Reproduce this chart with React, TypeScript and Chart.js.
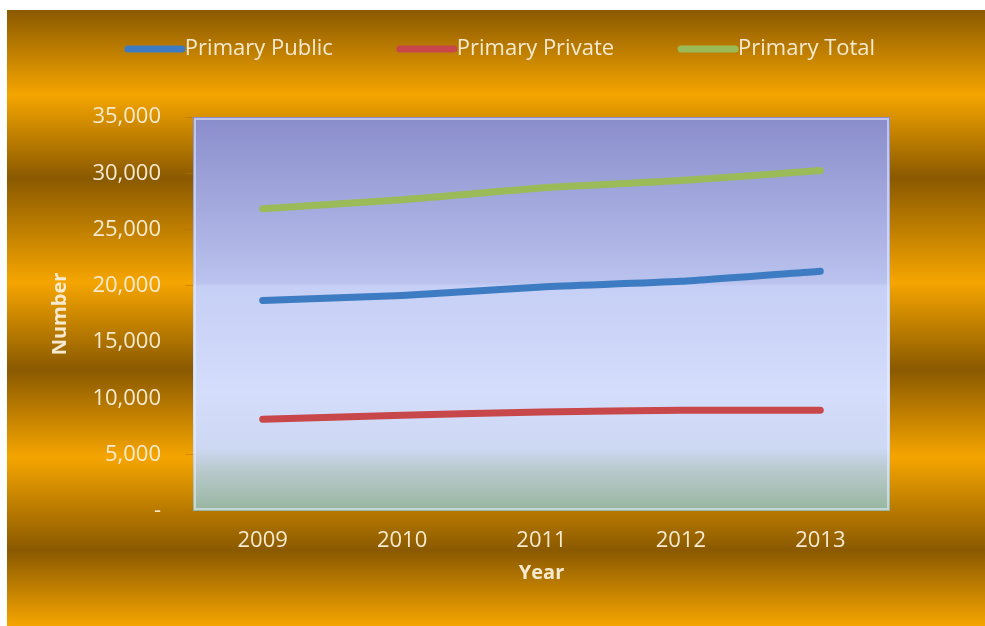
import React, { useEffect, useRef } from 'react';
import { Chart, registerables } from 'chart.js';

Chart.register(...registerables);

const years = ['2009', '2010', '2011', '2012', '2013'];
const primaryPublic = [18700, 19150, 19900, 20400, 21300];
const primaryPrivate = [8150, 8500, 8800, 8950, 8950];
const primaryTotal = [26850, 27650, 28700, 29350, 30250];
const seriesNames = ['Primary Public', 'Primary Private', 'Primary Total'];
const seriesColors = ['#3D7CC2', '#C8474A', '#9BBB59'];
const yMin = 0;
const yMax = 35000;
const yStep = 5000;

const W = 978;
const H = 616;
const TEXT = '#F7EAD0';
const FONT = '"Open Sans", "Liberation Sans", sans-serif';

const backgroundPlugin = {
  id: 'bgPlugin',
  beforeDraw(chart: any) {
    const { ctx, width, height, chartArea } = chart;
    ctx.save();
    const dark = '#8A5900';
    const orange = '#F5A500';
    const g = ctx.createLinearGradient(0, 0, 0, height);
    g.addColorStop(0, dark);
    g.addColorStop(0.138, orange);
    g.addColorStop(0.273, dark);
    g.addColorStop(0.442, orange);
    g.addColorStop(0.584, dark);
    g.addColorStop(0.726, orange);
    g.addColorStop(0.877, dark);
    g.addColorStop(1, orange);
    ctx.fillStyle = g;
    ctx.fillRect(0, 0, width, height);

    const { left, top, right, bottom } = chartArea;
    const pg = ctx.createLinearGradient(0, top, 0, bottom);
    pg.addColorStop(0, '#8A8DCB');
    pg.addColorStop(0.42, '#BAC2EE');
    pg.addColorStop(0.43, '#C6CFF5');
    pg.addColorStop(0.7, '#D4DDFB');
    pg.addColorStop(0.84, '#CDD8F3');
    pg.addColorStop(0.9, '#B8C9CB');
    pg.addColorStop(1, '#97B59F');
    ctx.fillStyle = pg;
    ctx.fillRect(left, top, right - left, bottom - top);
    ctx.strokeStyle = 'rgba(235,240,255,0.55)';
    ctx.lineWidth = 2;
    ctx.strokeRect(left + 2, top + 2, right - left - 4, bottom - top - 4);
    ctx.restore();
  },
};

const legendPlugin = {
  id: 'customLegend',
  afterDraw(chart: any) {
    const { ctx } = chart;
    ctx.save();
    ctx.font = `22px ${FONT}`;
    ctx.textBaseline = 'middle';
    ctx.textAlign = 'left';
    const lineW = 60;
    const gap = 64;
    const items = chart.data.datasets.map((d: any) => ({
      label: d.label,
      color: d.borderColor,
      w: ctx.measureText(d.label).width,
    }));
    const total = items.reduce((s: number, it: any) => s + lineW + it.w, 0) + gap * (items.length - 1);
    let x = 493 - total / 2;
    const y = 39;
    items.forEach((it: any) => {
      ctx.strokeStyle = it.color;
      ctx.lineWidth = 7;
      ctx.lineCap = 'round';
      ctx.beginPath();
      ctx.moveTo(x + 3, y);
      ctx.lineTo(x + lineW - 3, y);
      ctx.stroke();
      ctx.fillStyle = TEXT;
      ctx.fillText(it.label, x + lineW, y);
      x += lineW + it.w + gap;
    });
    ctx.restore();
  },
};

export default function App() {
  const ref = useRef<HTMLCanvasElement | null>(null);

  useEffect(() => {
    if (!ref.current) return;
    const values = [primaryPublic, primaryPrivate, primaryTotal];
    const chart = new Chart(ref.current, {
      type: 'line',
      data: {
        labels: years,
        datasets: seriesNames.map((name, i) => ({
          label: name,
          data: values[i],
          borderColor: seriesColors[i],
          backgroundColor: seriesColors[i],
          borderWidth: 7,
          borderCapStyle: 'round',
          borderJoinStyle: 'round',
          pointRadius: 0,
          tension: 0.2,
          fill: false,
        })),
      },
      options: {
        responsive: false,
        animation: false,
        devicePixelRatio: 1,
        layout: { padding: { top: 107, left: 0, right: 95, bottom: 0 } },
        plugins: {
          legend: { display: false },
          tooltip: { enabled: false },
        },
        scales: {
          x: {
            offset: true,
            grid: { display: false, drawTicks: false },
            border: { display: false },
            ticks: {
              color: TEXT,
              font: { family: FONT, size: 22 },
              padding: 17,
            },
            title: {
              display: true,
              text: 'Year',
              color: TEXT,
              font: { family: FONT, size: 20, weight: 'bold' },
              padding: { top: 0, bottom: 41 },
            },
            afterFit: (s: any) => {
              s.height = 115;
            },
          },
          y: {
            min: yMin,
            max: yMax,
            grid: {
              drawOnChartArea: false,
              drawTicks: true,
              tickLength: 8,
              color: 'rgba(190,110,0,0.5)',
            },
            border: { display: false },
            ticks: {
              stepSize: yStep,
              color: TEXT,
              font: { family: FONT, size: 22 },
              padding: 24,
              callback: (v: any) => (Number(v) === 0 ? '-' : Number(v).toLocaleString('en-US')),
            },
            title: {
              display: true,
              text: 'Number',
              color: TEXT,
              font: { family: FONT, size: 20, weight: 'bold' },
              padding: { top: 41, bottom: 0 },
            },
            afterFit: (s: any) => {
              s.width = 186;
            },
          },
        },
      },
      plugins: [backgroundPlugin, legendPlugin],
    } as any);
    return () => chart.destroy();
  }, []);

  return (
    <div style={{ position: 'absolute', left: 7, top: 10, width: W, height: H }}>
      <canvas ref={ref} width={W} height={H} style={{ display: 'block', width: W, height: H }} />
    </div>
  );
}
